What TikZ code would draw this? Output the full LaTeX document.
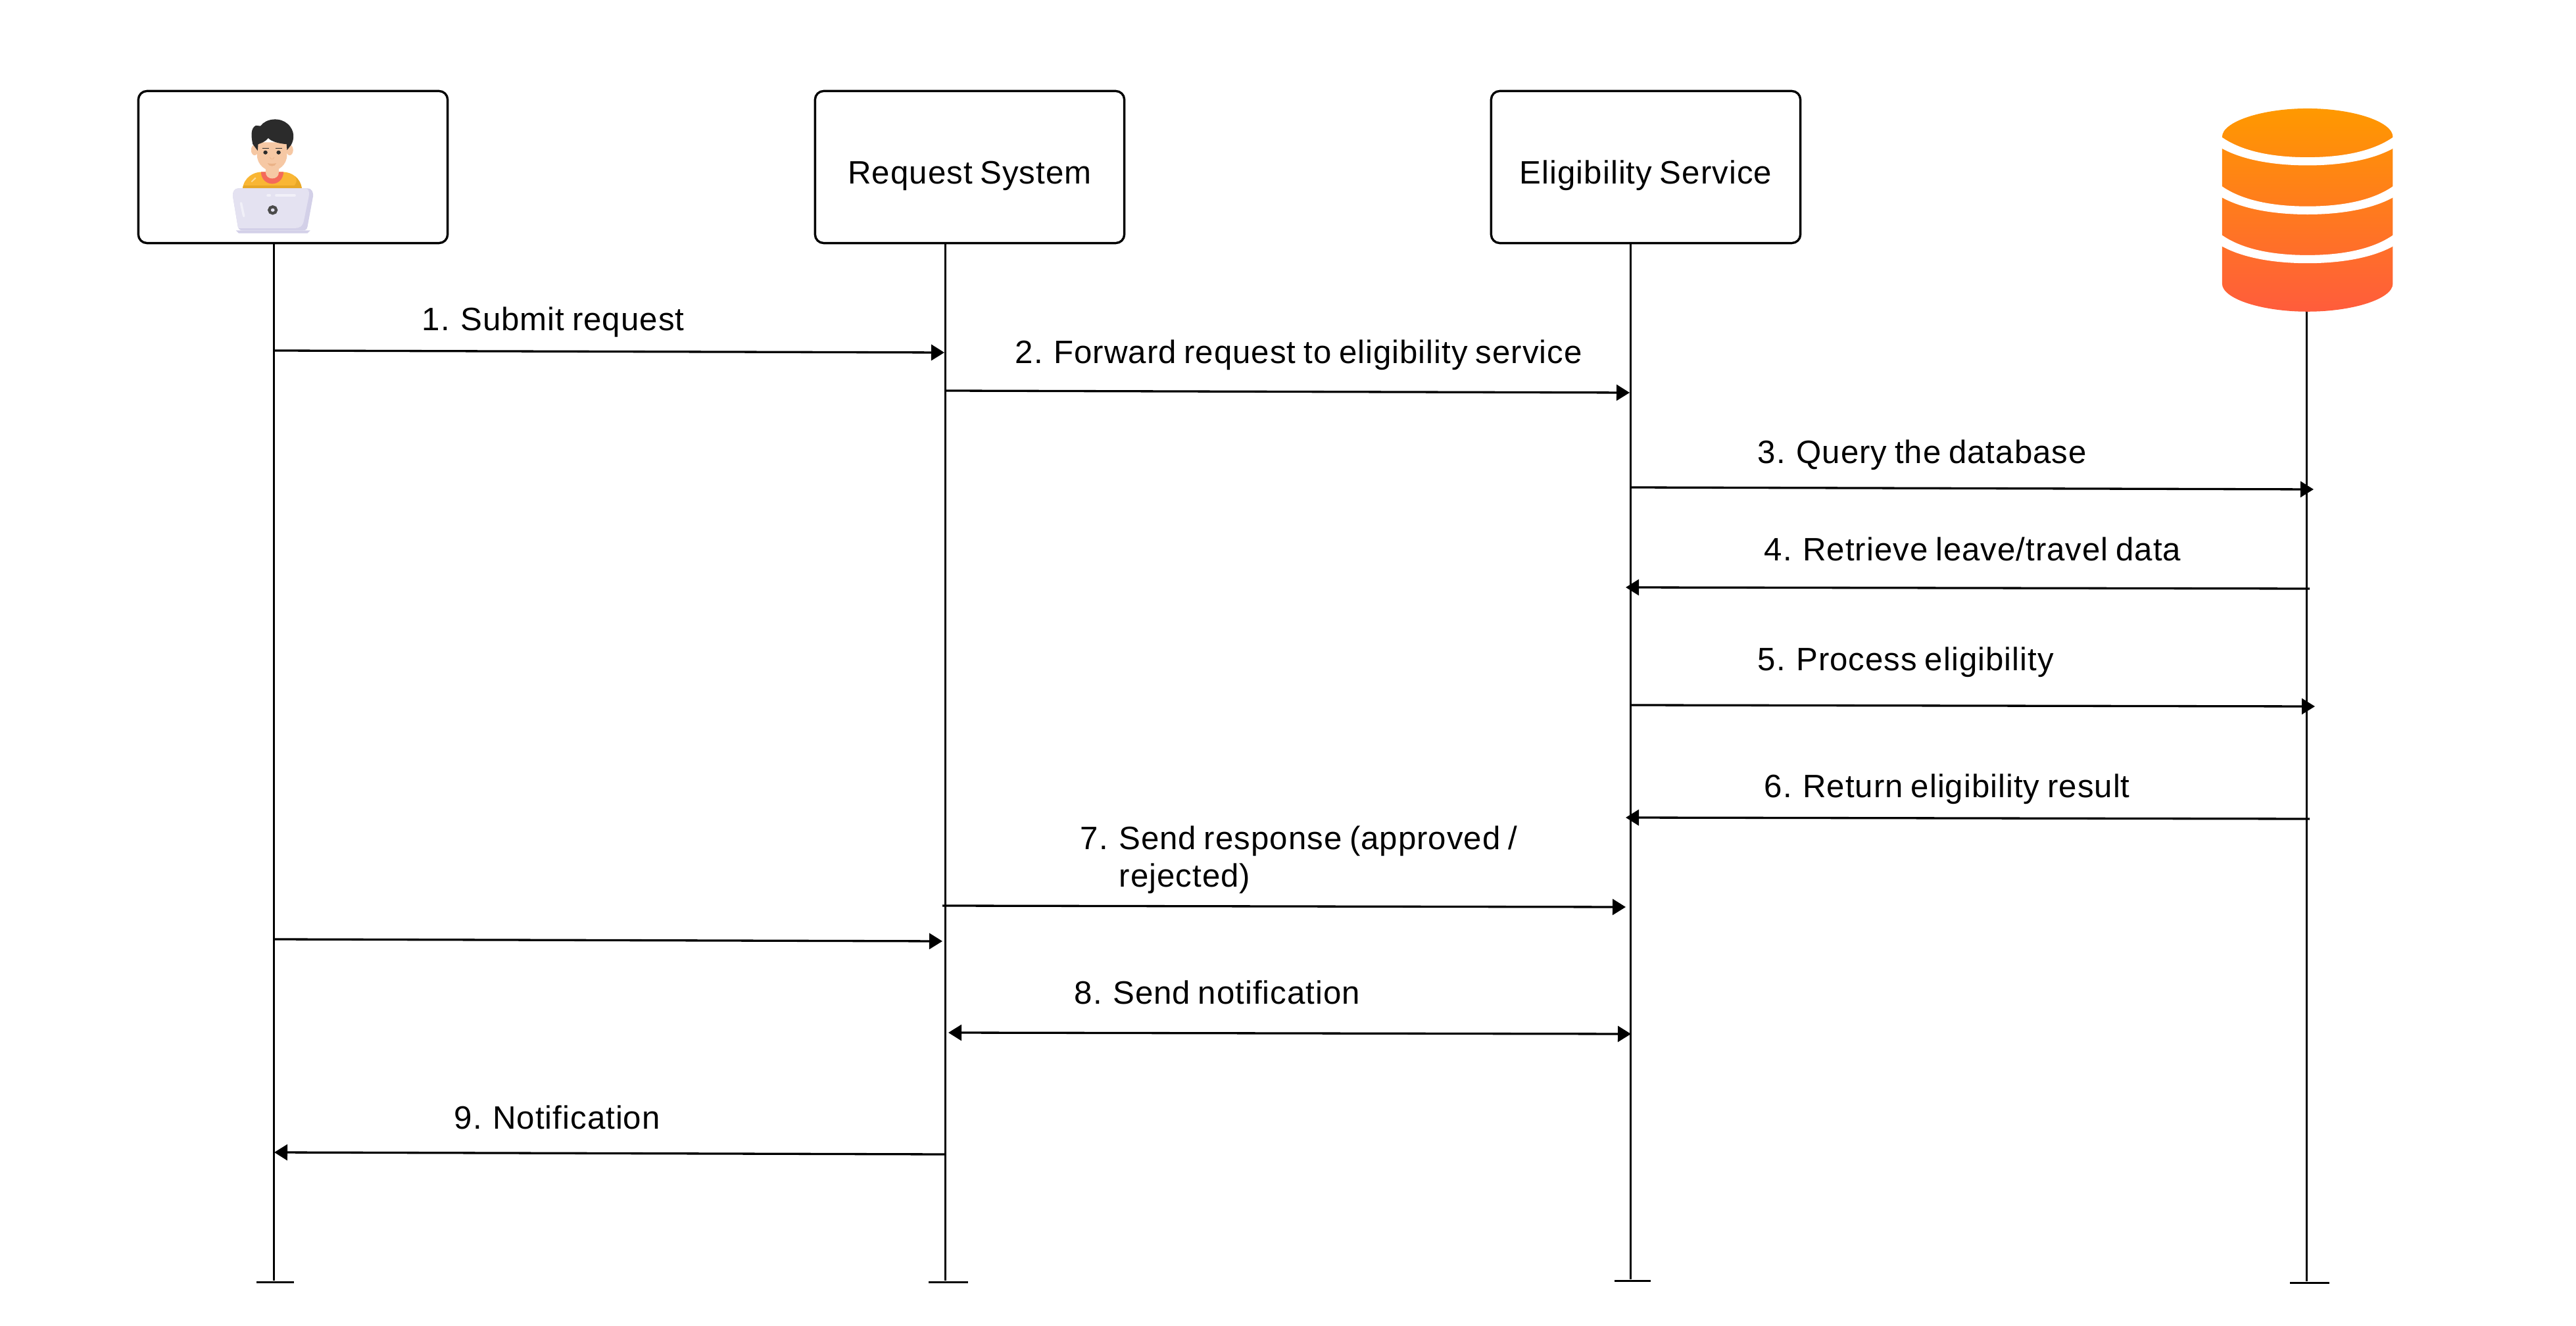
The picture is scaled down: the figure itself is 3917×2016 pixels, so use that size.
\documentclass[tikz,border=0pt]{standalone}
\usepackage{fontspec}
\setmainfont{Liberation Sans}[LetterSpace=2.0,WordSpace=0.8]
\usetikzlibrary{arrows.meta}
\colorlet{myline}{black}
\definecolor{dbtop}{HTML}{FF9900}
\definecolor{dbbottom}{HTML}{FF5C3C}
\definecolor{myhair}{HTML}{2B2B2B}
\definecolor{myskin}{HTML}{F6C8A4}
\definecolor{myskindark}{HTML}{EBB287}
\definecolor{myshirt}{HTML}{F9B634}
\definecolor{myshirtdark}{HTML}{E8A726}
\definecolor{mycollar}{HTML}{F4695B}
\definecolor{mylaptop}{HTML}{E4E2F1}
\definecolor{mylaptopdark}{HTML}{D3D0E8}
\newcommand{\boxtext}[1]{\raisebox{-.25cm}[0pt][0pt]{#1}}
\tikzset{
  actorbox/.style={draw=myline,line width=.034cm,rounded corners=.13cm,minimum width=4.7cm,minimum height=2.31cm,inner sep=0},
  lifeline/.style={draw=myline,line width=.03cm},
  lifebar/.style={draw=myline,line width=.03cm},
  msg/.style={draw=myline,line width=.033cm,-{Triangle[length=.2cm,width=.24cm]}},
  msgboth/.style={draw=myline,line width=.033cm,{Triangle[length=.2cm,width=.24cm]}-{Triangle[length=.2cm,width=.24cm]}},
  msglabel/.style={anchor=base west,inner sep=0,font=\fontsize{14}{17}\selectfont},
  boxlabel/.style={font=\fontsize{14}{17}\selectfont}
}
\begin{document}
\begin{tikzpicture}[x=.01cm,y=.01cm]
\useasboundingbox (0,0) rectangle (3917,-2016);
\node[actorbox] (userbox) at (445.5,-254) {};
\node[actorbox,boxlabel] (requestbox) at (1474.5,-254) {\boxtext{Request System}};
\node[actorbox,boxlabel] (eligbox) at (2502.5,-254) {\boxtext{Eligibility Service}};

\begin{scope}[shift={(180,-120)},x=.003571cm,y=-.003333cm]
\fill[myshirt] (529,500) .. controls (535,450) and (575,425) .. (610,425) -- (700,425) .. controls (740,425) and (775,455) .. (781,500) -- cycle;
\fill[myshirtdark] (529,500) -- (532,487) -- (750,487) .. controls (762,470) and (760,455) .. (752,445) .. controls (768,458) and (778,478) .. (781,500) -- cycle;
\fill[mycollar] (607,425) .. controls (610,497) and (700,497) .. (703,425) -- cycle;
\fill[myskin] (627,400) -- (683,400) -- (683,425) .. controls (685,465) and (625,465) .. (627,425) -- cycle;
\fill[myskin] (580,325) ellipse [x radius=15,y radius=24];
\fill[myskin] (729,325) ellipse [x radius=15,y radius=24];
\fill[myskin] (590,290) -- (718,290) -- (718,345) .. controls (718,395) and (680,420) .. (654,420) .. controls (628,420) and (590,395) .. (590,345) -- cycle;
\fill[myhair] (572,298) .. controls (565,265) and (562,225) .. (585,213) .. controls (592,213) and (600,215) .. (605,215) .. controls (630,178) and (690,175) .. (720,205) .. controls (752,235) and (750,275) .. (735,302) -- (718,325) -- (716,298) .. controls (680,295) and (650,285) .. (638,270) .. controls (625,288) and (605,295) .. (595,298) -- (593,328) -- cycle;
\fill[myhair] (626,336) ellipse [x radius=9,y radius=9];
\fill[myhair] (682,336) ellipse [x radius=9,y radius=9];
\draw[myhair,line width=.012cm] (612,318) -- (640,318) (668,318) -- (696,318);
\fill[myskindark] (635,385) .. controls (645,388) and (662,388) .. (672,385) .. controls (668,403) and (640,403) .. (635,385) -- cycle;
\draw[myskindark,line width=.005cm] (645,358) .. controls (648,370) and (660,370) .. (663,358);
\fill[mylaptopdark] (500,692) -- (817,692) -- (805,705) -- (512,705) -- cycle;
\fill[mylaptopdark] (510,500) -- (805,500) .. controls (825,500) and (830,520) .. (829,535) -- (805,675) .. controls (802,690) and (795,692) .. (785,692) -- (530,692) .. controls (515,692) and (510,685) .. (508,670) -- (487,535) .. controls (486,515) and (495,500) .. (510,500) -- cycle;
\fill[mylaptop] (510,500) -- (800,500) .. controls (812,505) and (813,520) .. (811,535) -- (790,645) .. controls (785,675) and (770,682) .. (750,682) -- (510,682) .. controls (509,680) and (509,675) .. (508,670) -- (487,535) .. controls (486,515) and (495,500) .. (510,500) -- cycle;
\draw[white,opacity=.5,line width=.035cm,line cap=round] (522,567) -- (534,627);
\draw[white,opacity=.5,line width=.04cm,line cap=round] (636,532) -- (644,532) (672,532) -- (750,532);
\fill[white,opacity=.5] (565,468) -- (582,450) -- (587,454) -- (568,472) -- cycle;
\draw[myhair!85,line width=.043cm] (657,599) ellipse [x radius=15,y radius=15];
\end{scope}

\begin{scope}[shift={(3300,-130)},x=.003333cm,y=-.003333cm]
\shade[top color=dbtop,bottom color=dbbottom] (237,235) .. controls (237,165) and (420,105) .. (627,105) .. controls (834,105) and (1017,165) .. (1017,235) -- (1017,905) .. controls (1017,975) and (834,1033) .. (627,1033) .. controls (420,1033) and (237,975) .. (237,905) -- cycle;
\foreach \bandy in {0,224,447}
  \fill[white] (230,{232+\bandy}) .. controls (330,{305+\bandy}) and (480,{328+\bandy}) .. (627,{328+\bandy}) .. controls (774,{328+\bandy}) and (924,{305+\bandy}) .. (1024,{232+\bandy}) -- (1024,{284+\bandy}) .. controls (924,{342+\bandy}) and (774,{365+\bandy}) .. (627,{365+\bandy}) .. controls (480,{365+\bandy}) and (330,{342+\bandy}) .. (230,{284+\bandy}) -- cycle;
\end{scope}
\coordinate (dbbase) at (3507.5,-474);

\foreach \nm/\xa/\xb/\ya in {user/390/447/-1949.5,request/1412/1472/-1949.5,elig/2455/2510/-1947.5,db/3482/3542/-1950.5}{
  \coordinate (\nm barl) at (\xa,\ya);
  \coordinate (\nm barr) at (\xb,\ya);
  \draw[lifebar] (\nm barl) -- (\nm barr);
}
\coordinate (userend) at (416.5,-1947);
\coordinate (requestend) at (1437.5,-1947);
\coordinate (eligend) at (2479.5,-1945);
\coordinate (dbend) at (3507.5,-1948);
\draw[lifeline] (userbox.south -| userend) -- (userend);
\draw[lifeline] (requestbox.south -| requestend) -- (requestend);
\draw[lifeline] (eligbox.south -| eligend) -- (eligend);
\draw[lifeline] (dbbase) -- (dbend);

\foreach \nm/\xa/\ya/\xb/\yb in {
  one/417/-533/1436/-536,
  two/1438/-594/2478/-597,
  three/2480/-741/3518/-744,
  four/3512/-895/2472/-893,
  five/2480/-1072/3520/-1074,
  six/3512/-1245/2472/-1243,
  seven/1433/-1377/2472/-1379,
  extra/417/-1428/1433/-1431,
  nine/1438/-1755/417/-1752}{
  \coordinate (\nm a) at (\xa,\ya);
  \coordinate (\nm b) at (\xb,\yb);
  \draw[msg] (\nm a) -- (\nm b);
}
\coordinate (eighta) at (1442,-1570);
\coordinate (eightb) at (2480,-1572);
\draw[msgboth] (eighta) -- (eightb);

\node[msglabel] (labone) at (641,-503) {1. Submit request};
\node[msglabel] (labtwo) at (1543,-553) {2. Forward request to eligibility service};
\node[msglabel] (labthree) at (2672,-705) {3. Query the database};
\node[msglabel] (labfour) at (2682,-853) {4. Retrieve leave/travel data};
\node[msglabel] (labfive) at (2672,-1020) {5. Process eligibility};
\node[msglabel] (labsix) at (2682,-1213) {6. Return eligibility result};
\node[msglabel] (labseven) at (1642,-1291) {7. Send response (approved /};
\node[msglabel] (labsevenb) at (1701,-1348) {rejected)};
\node[msglabel] (labeight) at (1633,-1526) {8. Send notification};
\node[msglabel] (labnine) at (690,-1716) {9. Notification};
\end{tikzpicture}
\end{document}
